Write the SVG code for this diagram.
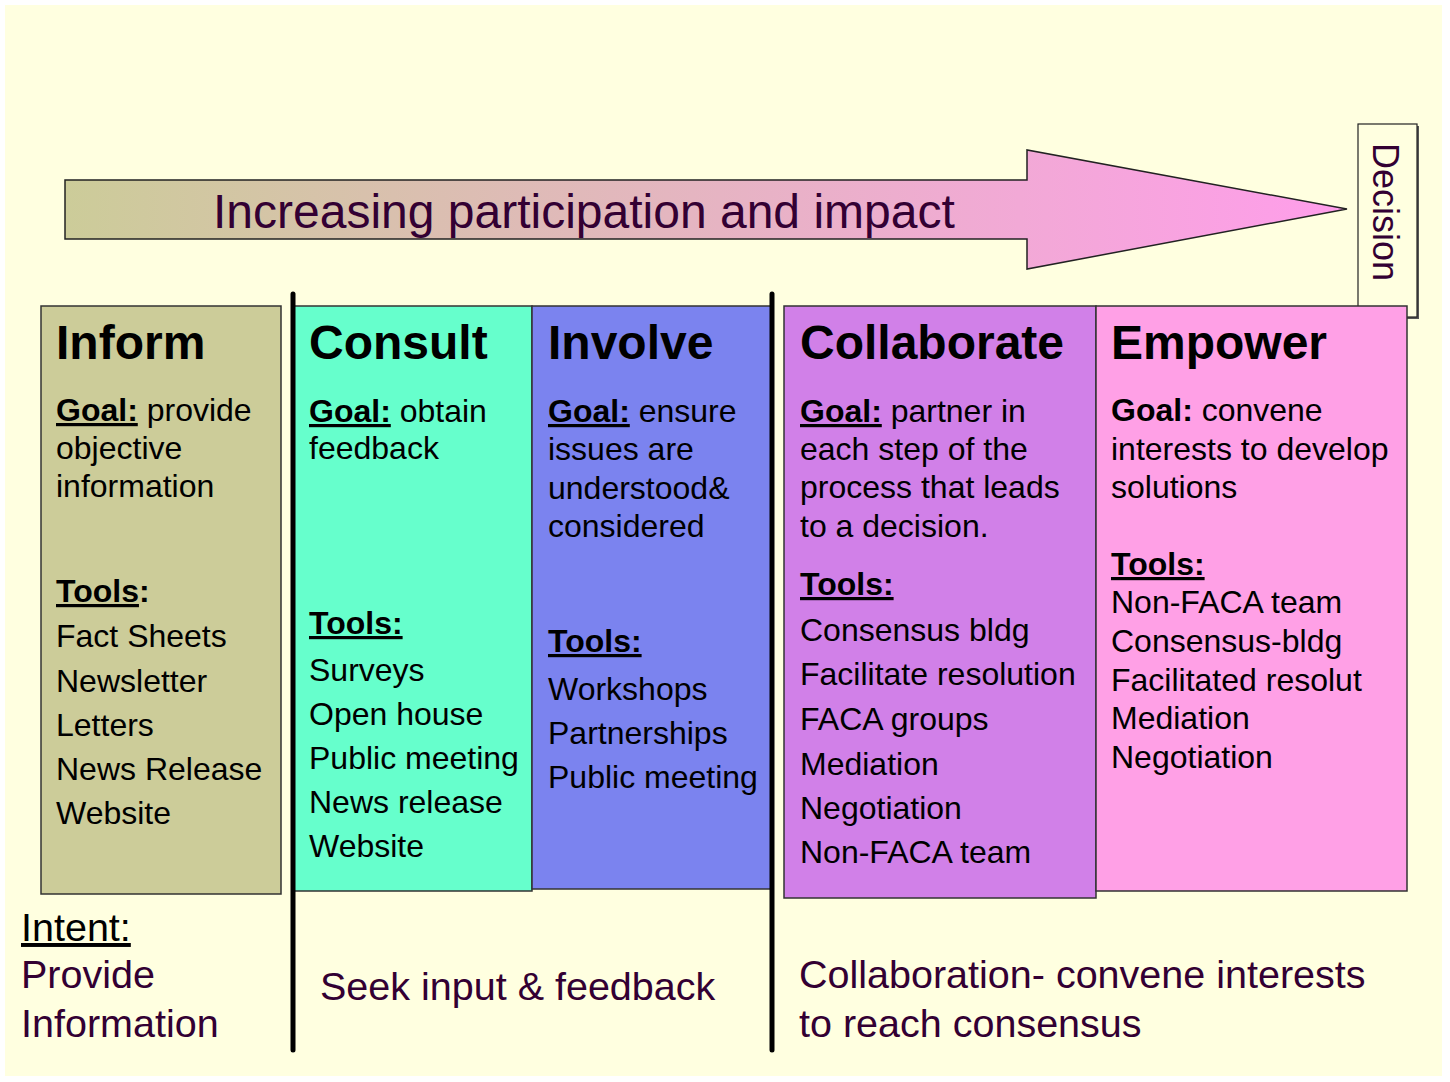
<svg xmlns="http://www.w3.org/2000/svg" width="1450" height="1082" viewBox="0 0 1450 1082">
<defs>
<linearGradient id="arrowGrad" gradientUnits="userSpaceOnUse" x1="65" y1="0" x2="1347" y2="0">
<stop offset="0" stop-color="#CCCC99"/>
<stop offset="1" stop-color="#FF9DEB"/>
</linearGradient>
<style>
text{font-family:"Liberation Sans",Arial,sans-serif;}
.box{stroke:#333333;stroke-width:1.5;}
.title{font-size:48px;font-weight:bold;fill:#000;}
.body{font-size:32px;fill:#000;}
.b{font-weight:bold;}
.u{text-decoration:underline;}
.low{font-size:39.5px;fill:#330033;}
.divider{stroke:#000;stroke-width:5;stroke-linecap:round;fill:none;}
</style>
</defs>
<rect x="0" y="0" width="1450" height="1082" fill="#FFFFFF"/>
<rect x="5" y="5" width="1437" height="1071" fill="#FFFFE0"/>

<g id="arrow">
<polygon points="65,180 1027,180 1027,150 1347,209 1027,269 1027,239 65,239" fill="url(#arrowGrad)" stroke="#222" stroke-width="1.5"/>
<text x="213" y="228" font-size="48" fill="#330033">Increasing participation and impact</text>
</g>

<g id="decision">
<rect x="1360" y="126" width="59" height="193" fill="#555"/>
<rect x="1358" y="124" width="59" height="193" fill="#FFFFE0" stroke="#222" stroke-width="1.2"/>
<text transform="translate(1373,143) rotate(90)" font-size="36" fill="#330033">Decision</text>
</g>

<g id="inform">
<rect class="box" x="41" y="306" width="240" height="588" fill="#CCCC99"/>
<text class="title" x="56" y="359">Inform</text>
<text class="body" x="56" y="421"><tspan class="b u">Goal:</tspan> provide</text>
<text class="body" x="56" y="459">objective</text>
<text class="body" x="56" y="497">information</text>
<text class="body" x="56" y="602"><tspan class="b u">Tools</tspan><tspan class="b">:</tspan></text>
<text class="body" x="56" y="647">Fact Sheets</text>
<text class="body" x="56" y="692">Newsletter</text>
<text class="body" x="56" y="736">Letters</text>
<text class="body" x="56" y="780">News Release</text>
<text class="body" x="56" y="824">Website</text>
</g>

<g id="consult">
<rect class="box" x="293" y="306" width="239" height="585" fill="#66FFCC"/>
<text class="title" x="309" y="359">Consult</text>
<text class="body" x="309" y="422"><tspan class="b u">Goal:</tspan> obtain</text>
<text class="body" x="309" y="459">feedback</text>
<text class="body" x="309" y="634"><tspan class="b u">Tools:</tspan></text>
<text class="body" x="309" y="681">Surveys</text>
<text class="body" x="309" y="725">Open house</text>
<text class="body" x="309" y="769">Public meeting</text>
<text class="body" x="309" y="813">News release</text>
<text class="body" x="309" y="857">Website</text>
</g>

<g id="involve">
<rect class="box" x="532" y="306" width="240" height="583" fill="#7B83EF"/>
<text class="title" x="548" y="359">Involve</text>
<text class="body" x="548" y="422"><tspan class="b u">Goal:</tspan> ensure</text>
<text class="body" x="548" y="460">issues are</text>
<text class="body" x="548" y="499">understood&amp;</text>
<text class="body" x="548" y="537">considered</text>
<text class="body" x="548" y="652"><tspan class="b u">Tools:</tspan></text>
<text class="body" x="548" y="700">Workshops</text>
<text class="body" x="548" y="744">Partnerships</text>
<text class="body" x="548" y="788">Public meeting</text>
</g>

<g id="collaborate">
<rect class="box" x="784" y="306" width="312" height="592" fill="#D180E8"/>
<text class="title" x="800" y="359">Collaborate</text>
<text class="body" x="800" y="422"><tspan class="b u">Goal:</tspan> partner in</text>
<text class="body" x="800" y="460">each step of the</text>
<text class="body" x="800" y="498">process that leads</text>
<text class="body" x="800" y="537">to a decision.</text>
<text class="body" x="800" y="595"><tspan class="b u">Tools:</tspan></text>
<text class="body" x="800" y="641">Consensus bldg</text>
<text class="body" x="800" y="685">Facilitate resolution</text>
<text class="body" x="800" y="730">FACA groups</text>
<text class="body" x="800" y="775">Mediation</text>
<text class="body" x="800" y="819">Negotiation</text>
<text class="body" x="800" y="863">Non-FACA team</text>
</g>

<g id="empower">
<rect class="box" x="1096" y="306" width="311" height="585" fill="#FFA0E6"/>
<text class="title" x="1111" y="359">Empower</text>
<text class="body" x="1111" y="421"><tspan class="b">Goal:</tspan> convene</text>
<text class="body" x="1111" y="460">interests to develop</text>
<text class="body" x="1111" y="498">solutions</text>
<text class="body" x="1111" y="575"><tspan class="b u">Tools:</tspan></text>
<text class="body" x="1111" y="613">Non-FACA team</text>
<text class="body" x="1111" y="652">Consensus-bldg</text>
<text class="body" x="1111" y="691">Facilitated resolut</text>
<text class="body" x="1111" y="729">Mediation</text>
<text class="body" x="1111" y="768">Negotiation</text>
</g>

<g id="connectors">
<line class="divider" x1="293" y1="294" x2="293" y2="1050"/>
<line class="divider" x1="772" y1="294" x2="772" y2="1050"/>
</g>

<g id="intent-provide">
<text class="low" x="21" y="941" style="fill:#000;text-decoration:underline;">Intent:</text>
<text class="low" x="21" y="988">Provide</text>
<text class="low" x="21" y="1037">Information</text>
</g>
<g id="intent-seek">
<text class="low" x="320" y="1000">Seek input &amp; feedback</text>
</g>
<g id="intent-collab">
<text class="low" x="799" y="988">Collaboration- convene interests</text>
<text class="low" x="799" y="1037">to reach consensus</text>
</g>
</svg>
